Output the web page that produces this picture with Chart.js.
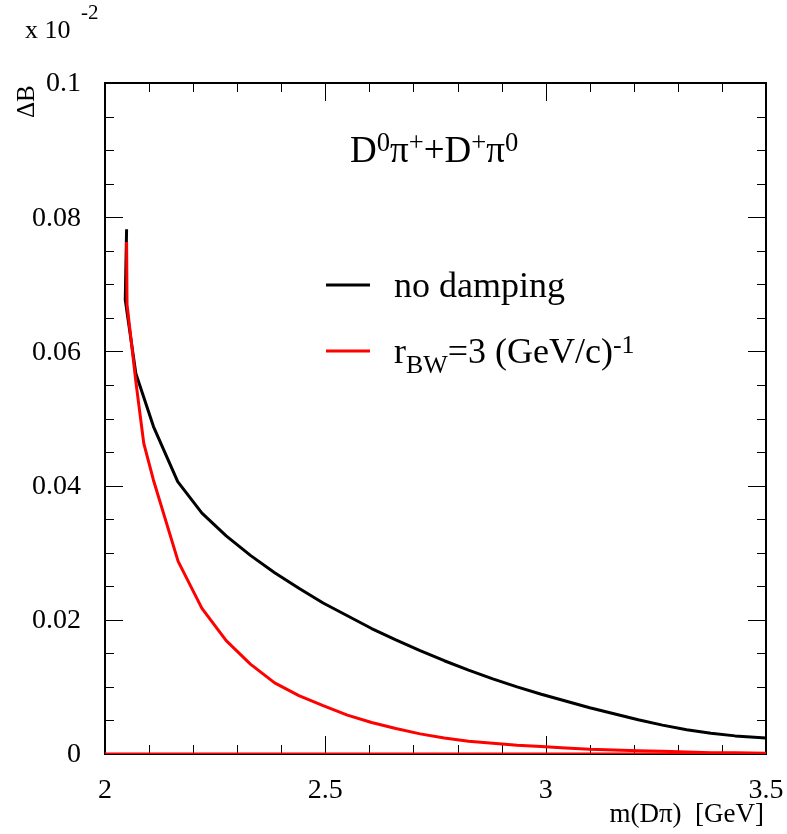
<!DOCTYPE html>
<html><head><meta charset="utf-8">
<script src="https://cdn.jsdelivr.net/npm/chart.js@4/dist/chart.umd.min.js"></script>
<style>html,body{margin:0;padding:0;background:#fff;}canvas{display:block;}</style>
</head><body>
<canvas id="c" width="787" height="834"></canvas>
<script>
// ---- data (values in units of 10^-2) ----
const massNoDamp = [2.049, 2.046, 2.07, 2.11, 2.165, 2.22, 2.275, 2.33, 2.385, 2.44, 2.495, 2.55, 2.605, 2.66, 2.715, 2.77, 2.825, 2.88, 2.935, 2.99, 3.045, 3.10, 3.155, 3.21, 3.265, 3.32, 3.375, 3.43, 3.5];
const dBNoDamp   = [0.0782, 0.0677, 0.0567, 0.0488, 0.0406, 0.0359, 0.0325, 0.0296, 0.0270, 0.0247, 0.0225, 0.0206, 0.0187, 0.0170, 0.0154, 0.0139, 0.0125, 0.0112, 0.0100, 0.0089, 0.0079, 0.0069, 0.0060, 0.0051, 0.0043, 0.0036, 0.0031, 0.0027, 0.0024];
const massBW = [2.049, 2.05, 2.07, 2.088, 2.11, 2.166, 2.22, 2.275, 2.33, 2.385, 2.44, 2.495, 2.55, 2.605, 2.66, 2.715, 2.77, 2.825, 2.88, 2.935, 2.99, 3.045, 3.10, 3.155, 3.21, 3.265, 3.32, 3.375, 3.43, 3.5];
const dBBW   = [0.0763, 0.0670, 0.0555, 0.0463, 0.0408, 0.0287, 0.0217, 0.0169, 0.0134, 0.0106, 0.0087, 0.0072, 0.0058, 0.0047, 0.0038, 0.0030, 0.0024, 0.0019, 0.0016, 0.0013, 0.0011, 0.0009, 0.0007, 0.0006, 0.0005, 0.0004, 0.0003, 0.0002, 0.0002, 0.0001];
const baselineMass = [2.0, 3.5];
const baselineVal  = [0, 0];
const xTickValues = [2, 2.5, 3, 3.5];
const xTickLabels = ['2', '2.5', '3', '3.5'];
const yTickValues = [0, 0.02, 0.04, 0.06, 0.08, 0.1];
const yTickLabels = ['0', '0.02', '0.04', '0.06', '0.08', '0.1'];
const seriesLabels = ['no damping', 'r_{BW}=3 (GeV/c)^{-1}'];
const titleText = 'D^{0}π^{+}+D^{+}π^{0}';
const xTitle = 'm(Dπ)  [GeV]';
const yTitle = 'ΔB';

const FONT = '"Liberation Serif", "Times New Roman", serif';

function toPts(xs, ys) { return xs.map((x, i) => ({x: x, y: ys[i]})); }

function parseRich(s) {
  const segs = []; let i = 0; let buf = '';
  while (i < s.length) {
    const c = s[i];
    if ((c === '^' || c === '_') && s[i + 1] === '{') {
      if (buf) { segs.push({t: buf, m: 'n'}); buf = ''; }
      const end = s.indexOf('}', i);
      segs.push({t: s.slice(i + 2, end), m: c === '^' ? 'sup' : 'sub'});
      i = end + 1;
    } else { buf += c; i++; }
  }
  if (buf) segs.push({t: buf, m: 'n'});
  return segs;
}
function drawRich(ctx, s, x, y, size, supRaise) {
  const segs = parseRich(s);
  ctx.textAlign = 'left'; ctx.textBaseline = 'alphabetic';
  let cx = x;
  for (const sg of segs) {
    let fs = size, dy = 0;
    if (sg.m === 'sup') { fs = size * 0.72; dy = -size * (supRaise || 0.27); }
    if (sg.m === 'sub') { fs = size * 0.72; dy = size * 0.28; }
    ctx.font = fs + 'px ' + FONT;
    ctx.fillText(sg.t, cx, y + dy);
    cx += ctx.measureText(sg.t).width;
  }
}

const decor = {
  id: 'decor',
  beforeDatasetsDraw(chart) {
    const ctx = chart.ctx, a = chart.chartArea;
    const xs = chart.scales.x, ys = chart.scales.y;
    ctx.save();
    ctx.strokeStyle = '#000';
    // ticks
    ctx.lineWidth = 1;
    for (let k = 0; k <= 15; k++) {
      const v = 2 + k * 0.1;
      const major = xTickValues.some(t => Math.abs(t - v) < 1e-6);
      const len = major ? 18 : 9;
      const px = Math.round(xs.getPixelForValue(v)) + 0.5;
      ctx.beginPath();
      ctx.moveTo(px, a.bottom); ctx.lineTo(px, a.bottom - len);
      ctx.moveTo(px, a.top); ctx.lineTo(px, a.top + len);
      ctx.stroke();
    }
    for (let k = 0; k <= 20; k++) {
      const v = k * 0.005;
      const major = yTickValues.some(t => Math.abs(t - v) < 1e-6);
      const len = major ? 18 : 9;
      const py = Math.round(ys.getPixelForValue(v)) + 0.5;
      ctx.beginPath();
      ctx.moveTo(a.left, py); ctx.lineTo(a.left + len, py);
      ctx.moveTo(a.right, py); ctx.lineTo(a.right - len, py);
      ctx.stroke();
    }
    // frame
    ctx.lineWidth = 2;
    ctx.strokeRect(a.left, a.top, a.right - a.left, a.bottom - a.top);
    // tick labels
    ctx.fillStyle = '#000';
    ctx.font = '28px ' + FONT;
    ctx.textAlign = 'right'; ctx.textBaseline = 'middle';
    yTickValues.forEach((v, i) => ctx.fillText(yTickLabels[i], 81, ys.getPixelForValue(v) + 1));
    ctx.textAlign = 'center'; ctx.textBaseline = 'alphabetic';
    xTickValues.forEach((v, i) => {
      const px = xs.getPixelForValue(v);
      ctx.fillText(xTickLabels[i], px, 798);
    });
    // axis titles
    ctx.textAlign = 'right';
    ctx.font = '27px ' + FONT;
    ctx.fillText(xTitle, 764, 822);
    ctx.save();
    ctx.translate(34, 118); ctx.rotate(-Math.PI / 2);
    ctx.textAlign = 'left'; ctx.font = '25px ' + FONT;
    ctx.fillText(yTitle, 0, 0);
    ctx.restore();
    // exponent
    ctx.textAlign = 'left';
    ctx.font = '26px ' + FONT;
    ctx.fillText('x 10', 25, 38);
    ctx.font = '21px ' + FONT;
    ctx.fillText('-2', 81, 19);
    // title
    drawRich(ctx, titleText, 350, 162, 37, 0.3);
    // legend
    const lg = [{y: 285, c: '#000'}, {y: 351, c: '#ff0000'}];
    lg.forEach((L, i) => {
      ctx.strokeStyle = L.c; ctx.lineWidth = 3;
      ctx.beginPath(); ctx.moveTo(326, L.y); ctx.lineTo(370, L.y); ctx.stroke();
      ctx.fillStyle = '#000';
      drawRich(ctx, seriesLabels[i], 394, L.y + 12, 36);
    });
    ctx.restore();
  }
};

new Chart(document.getElementById('c'), {
  type: 'line',
  data: {
    datasets: [
      {label: seriesLabels[1], data: toPts(massBW, dBBW), borderColor: '#ff0000', borderWidth: 3, order: 0},
      {label: 'baseline', data: toPts(baselineMass, baselineVal), borderColor: '#ff0000', borderWidth: 3, order: 0},
      {label: seriesLabels[0], data: toPts(massNoDamp, dBNoDamp), borderColor: '#000000', borderWidth: 3, order: 1}
    ]
  },
  options: {
    responsive: false,
    animation: false,
    devicePixelRatio: 1,
    layout: {padding: {left: 105, top: 83, right: 21, bottom: 80}},
    elements: {point: {radius: 0}, line: {tension: 0, borderJoinStyle: 'round', borderCapStyle: 'butt'}},
    plugins: {legend: {display: false}, tooltip: {enabled: false}, title: {display: false}},
    scales: {
      x: {type: 'linear', min: 2, max: 3.5, display: false},
      y: {type: 'linear', min: 0, max: 0.1, display: false}
    }
  },
  plugins: [decor]
});
</script>
</body></html>
